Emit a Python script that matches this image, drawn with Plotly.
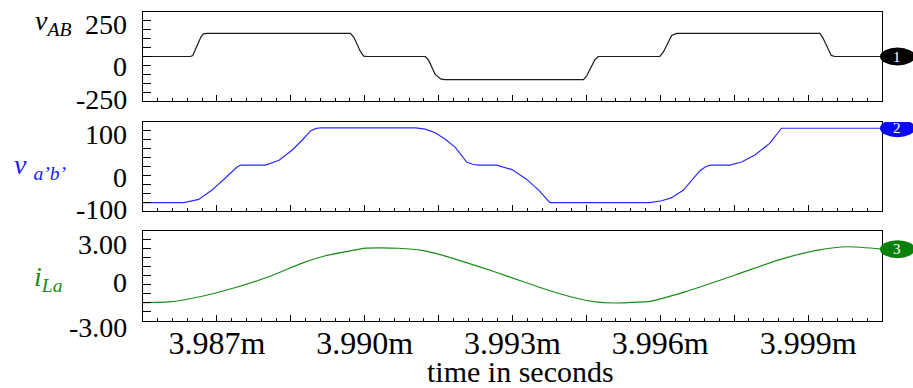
import plotly.graph_objects as go

# ---------------- data (time in ms, i.e. "3.990m" s) ----------------
t_vab = [3.9855, 3.98646, 3.98651, 3.98668, 3.98673, 3.98680,
         3.98971, 3.98978, 3.98991, 3.98998, 3.99005,
         3.99123, 3.99130, 3.99143, 3.99155, 3.99163,
         3.99444, 3.99451, 3.99467, 3.99474,
         3.99599, 3.99606, 3.99623, 3.99633,
         3.99924, 3.99930, 3.99947, 3.99954, 4.0005]
v_ab = [0, 0, 6, 112, 127, 130,
        130, 108, 30, 2, 0,
        0, -22, -101, -127, -130,
        -130, -107, -19, 0,
        0, 24, 118, 130,
        130, 105, 6, 0, 0]

t_vab2 = [3.9855, 3.98633, 3.98663, 3.98690, 3.98711, 3.98731, 3.98741, 3.98748,
          3.98799, 3.98826, 3.98853, 3.98873, 3.98890, 3.98900, 3.98910,
          3.99103, 3.99123, 3.99143, 3.99163, 3.99184, 3.99207, 3.99219, 3.99231,
          3.99268, 3.99299, 3.99329, 3.99353, 3.99376,
          3.99579, 3.99603, 3.99623, 3.99647, 3.99680, 3.99691, 3.99701,
          3.99741, 3.99765, 3.99792, 3.99822, 3.99846, 4.0005]
v_ab2 = [-81, -81, -74, -53, -32, -10, -1, 3,
         3, 14, 37, 59, 80, 85, 87,
         87, 84, 76, 62, 43, 10, 5, 3,
         3, -7, -29, -53, -81,
         -81, -77, -70, -53, -10, -1, 3,
         3, 10, 26, 52, 86, 86]

t_il = [3.9855, 3.98603, 3.98670, 3.98738, 3.98805, 3.98832, 3.98873,
        3.98920, 3.98968, 3.99001, 3.99035, 3.99069, 3.99116, 3.99157,
        3.99211, 3.99265, 3.99319, 3.99373, 3.99420, 3.99461, 3.99508,
        3.99582, 3.99650, 3.99751, 3.99839, 3.99920, 3.99981, 4.0005]
i_la = [-1.77, -1.73, -1.35, -0.77, -0.05, 0.30, 0.86,
        1.35, 1.66, 1.86, 1.88, 1.85, 1.71, 1.39,
        0.84, 0.27, -0.35, -0.95, -1.40, -1.69, -1.80,
        -1.67, -1.06, 0.05, 1.06, 1.73, 1.95, 1.79]

x_major = [3.987, 3.9885, 3.990, 3.9915, 3.993, 3.9945, 3.996, 3.9975, 3.999]
x_label_vals = [3.987, 3.990, 3.993, 3.996, 3.999]
x_labels = ["3.987m", "3.990m", "3.993m", "3.996m", "3.999m"]
x_range = [3.9855, 4.0005]

y_ranges = [[-250, 250], [-100, 100], [-3, 3]]
y_ticklabels = [["250", "0", "-250"], ["100", "0", "-100"], ["3.00", "0", "-3.00"]]
y_ticklabel_vals = [[250, 0, -250], [100, 0, -100], [3, 0, -3]]
y_minor_step = [50, 20, 0.6]

titles = ["<i>v<sub>AB</sub></i>", "<i>v <sub>a’b’</sub></i>", "<i>i<sub>La</sub></i>"]
xaxis_title = "time in seconds"
marker_labels = ["1", "2", "3"]

# ---------------- style ----------------
FONT = "Liberation Serif, Times New Roman, serif"
line_colors = ["#1a1a1a", "#2a2aff", "#1a8c1a"]
line_shapes = ["linear", "linear", "spline"]
title_colors = ["#000000", "#1a1aff", "#1a8c1a"]
oval_colors = ["#000000", "#0a0af0", "#0a800a"]
domains = [[0.7120, 1.0], [0.3560, 0.6440], [0.0, 0.2913]]
label_offsets = [[12, 10, -1], [12, 10.5, -1], [14, 7, 6.5]]
title_shift = [[-70, 34], [-75, 0], [-78, -3]]

series = [(t_vab, v_ab), (t_vab2, v_ab2), (t_il, i_la)]

fig = go.Figure()
for k, (tx, vy) in enumerate(series):
    sfx = "" if k == 0 else str(k + 1)
    ln = dict(color=line_colors[k], width=1.2, shape=line_shapes[k])
    if line_shapes[k] == "spline":
        ln["smoothing"] = 0.6
    fig.add_trace(go.Scatter(x=tx, y=vy, mode="lines", line=ln,
                             xaxis="x" + sfx, yaxis="y" + sfx,
                             showlegend=False, hoverinfo="skip"))

x_minor = []
v = 3.9858
while v < 4.0003:
    if all(abs(v - m) > 1e-6 for m in x_major):
        x_minor.append(round(v, 5))
    v += 0.0003

layout = dict(width=913, height=388, margin=dict(l=143, r=31, t=12, b=67),
              paper_bgcolor="white", plot_bgcolor="white", showlegend=False)

shapes = []
annotations = []
for k in range(3):
    sfx = "" if k == 0 else str(k + 1)
    lo, hi = y_ranges[k]
    step = y_minor_step[k]
    yt = []
    n = 1
    while lo + n * step < hi - 1e-9:
        yt.append(round(lo + n * step, 4))
        n += 1
    layout["xaxis" + sfx] = dict(
        domain=[0, 1], range=x_range, anchor="y" + sfx,
        showgrid=False, zeroline=False, showline=True, linecolor="black",
        linewidth=1.3, mirror=True, ticks="inside", ticklen=6, tickwidth=1,
        tickcolor="black", tickmode="array", tickvals=x_major,
        showticklabels=False,
        minor=dict(tickmode="array", tickvals=x_minor, ticks="inside",
                   ticklen=3, tickcolor="black", tickwidth=1),
        fixedrange=True)
    if k > 0:
        layout["xaxis" + sfx]["matches"] = "x"
    layout["yaxis" + sfx] = dict(
        domain=domains[k], range=y_ranges[k], anchor="x" + sfx,
        showgrid=False, zeroline=False, showline=True, linecolor="black",
        linewidth=1.3, mirror=True, ticks="inside", ticklen=8, tickwidth=1,
        tickcolor="black", tickmode="array", tickvals=yt,
        showticklabels=False, fixedrange=True)

    for lab, val, off in zip(y_ticklabels[k], y_ticklabel_vals[k], label_offsets[k]):
        annotations.append(dict(text=lab, x=0, xref="paper", y=val, yref="y" + sfx,
                                xanchor="right", yanchor="middle", xshift=-14,
                                yshift=-off, showarrow=False,
                                font=dict(family=FONT, size=28, color="black")))
    annotations.append(dict(text=titles[k], x=0, xref="paper", y=0, yref="y" + sfx,
                            xanchor="right", yanchor="middle",
                            xshift=title_shift[k][0], yshift=title_shift[k][1],
                            showarrow=False,
                            font=dict(family=FONT, size=28, color=title_colors[k])))
    last = series[k][1][-1]
    shapes.append(dict(type="circle", xref="paper", yref="y" + sfx,
                       xsizemode="pixel", xanchor=1, x0=-2, x1=33,
                       ysizemode="pixel", yanchor=last, y0=-9, y1=9,
                       fillcolor=oval_colors[k], line=dict(width=0), layer="above"))
    annotations.append(dict(text=marker_labels[k], x=1, xref="paper", y=last,
                            yref="y" + sfx, xanchor="center", yanchor="middle",
                            xshift=15, showarrow=False,
                            font=dict(family=FONT, size=15, color="white")))

# label-only axis over the bottom panel
layout["xaxis4"] = dict(overlaying="x3", anchor="y3", range=x_range, matches="x",
                        showgrid=False, zeroline=False, showline=False, ticks="",
                        tickmode="array", tickvals=x_label_vals, ticktext=x_labels,
                        tickfont=dict(family=FONT, size=32, color="black"),
                        side="bottom", fixedrange=True)
fig.add_trace(go.Scatter(x=[x_range[0]], y=[0], xaxis="x4", yaxis="y3", mode="lines",
                         showlegend=False, hoverinfo="skip", opacity=0))

annotations.append(dict(text=xaxis_title, x=0.511, xref="paper", y=0, yref="paper",
                        xanchor="center", yanchor="middle", yshift=-50,
                        showarrow=False, font=dict(family=FONT, size=30, color="black")))

layout["shapes"] = shapes
layout["annotations"] = annotations
fig.update_layout(**layout)
fig.write_html("out.html", config={"displayModeBar": False},
               post_script="document.body.style.margin='0';document.body.style.overflow='hidden';")
